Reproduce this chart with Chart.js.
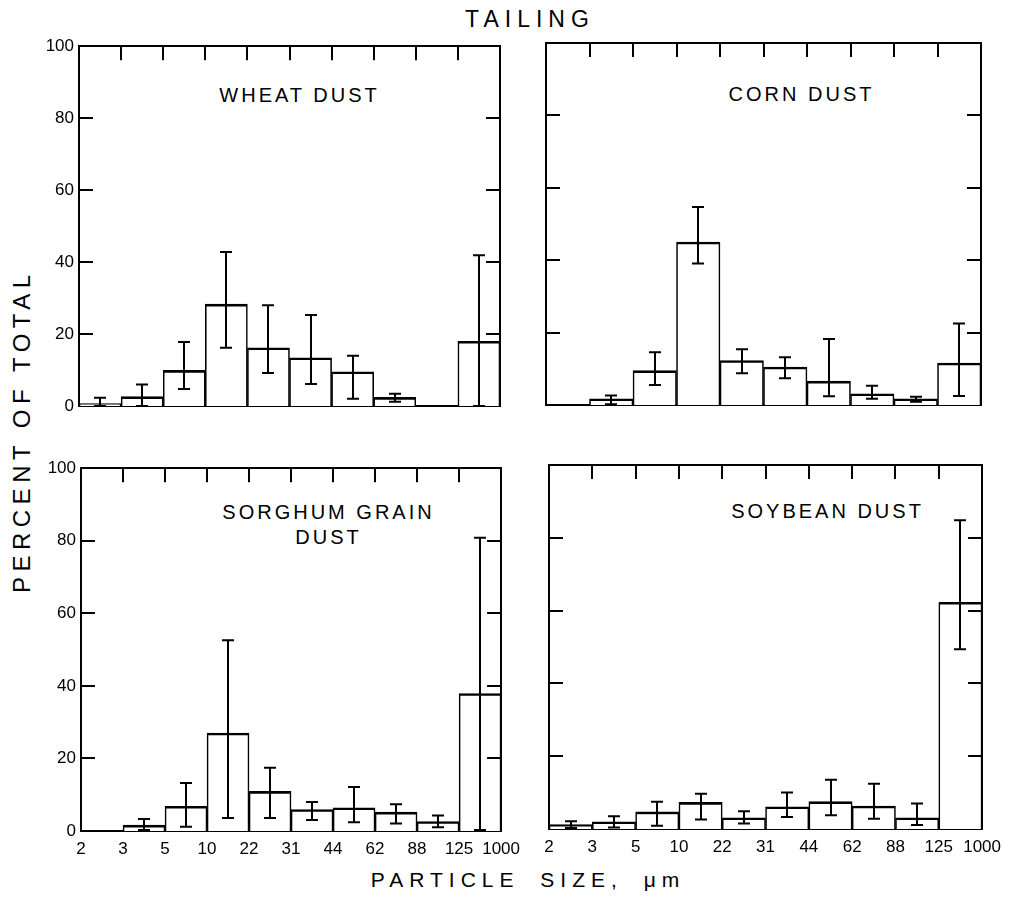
<!DOCTYPE html>
<html>
<head>
<meta charset="utf-8">
<script src="https://cdn.jsdelivr.net/npm/chart.js@4.4.1/dist/chart.umd.min.js"></script>
<style>
    body { margin: 0; background: #fff; width: 1017px; height: 898px; position: relative; overflow: hidden;
           font-family: "Liberation Sans", Arial, sans-serif; color: #000; }
    canvas { position: absolute; }
    .lbl { position: absolute; white-space: nowrap; line-height: 1; transform: translate(-50%, -50%); text-align: center; }
    #title { left: 527px; top: 19px; font-size: 23px; letter-spacing: 6px; padding-left: 6px; }
    #xTitle { left: 525px; top: 879px; font-size: 21px; letter-spacing: 6px; word-spacing: 9px; padding-left: 6px; }
    #yTitle { left: 22px; top: 434px; font-size: 24px; letter-spacing: 5.5px; padding-left: 5.5px;
              transform: translate(-50%, -50%) rotate(-90deg); }
    .panelName { font-size: 20px; letter-spacing: 3px; padding-left: 3px; }
</style>
</head>
<body>
<div class="lbl" id="title">TAILING</div>
<div class="lbl" id="yTitle">PERCENT OF TOTAL</div>
<div class="lbl" id="xTitle">PARTICLE SIZE, μm</div>
<div class="lbl panelName" style="left:298px;top:95px">WHEAT DUST</div>
<div class="lbl panelName" style="left:800px;top:94px">CORN DUST</div>
<div class="lbl panelName" style="left:327px;top:525px;line-height:25px">SORGHUM GRAIN<br>DUST</div>
<div class="lbl panelName" style="left:826px;top:511px">SOYBEAN DUST</div>

<script>
// bin edges (particle size, um) and y ticks
const sizeEdges = ["2", "3", "5", "10", "22", "31", "44", "62", "88", "125", "1000"];
const percentTicks = [0, 20, 40, 60, 80, 100];

// percent of total per size bin, with error bar ends
const wheatPct  = [0.7, 2.6, 9.9, 28.3, 16.2, 13.4, 9.5, 2.4, 0, 18.0];
const wheatLow  = [0, 0, 4.7, 16.2, 9.2, 6.1, 2.0, 1.2, null, 0];
const wheatHigh = [2.3, 6.0, 17.8, 42.8, 28.0, 25.3, 14.0, 3.4, null, 41.9];

const cornPct  = [0, 1.7, 9.5, 45.0, 12.3, 10.5, 6.6, 3.1, 1.7, 11.6];
const cornLow  = [null, 0.2, 5.5, 39.1, 8.8, 7.4, 2.4, 1.7, 0.9, 2.5];
const cornHigh = [null, 2.6, 14.6, 54.7, 15.4, 13.2, 18.2, 5.3, 2.3, 22.5];

const sorghumPct  = [0, 1.6, 6.8, 27.0, 10.9, 5.9, 6.4, 5.2, 2.6, 37.9];
const sorghumLow  = [null, 0.3, 1.2, 3.6, 3.6, 3.0, 2.4, 2.1, 1.0, 0.3];
const sorghumHigh = [null, 3.3, 13.2, 52.6, 17.4, 8.0, 12.1, 7.4, 4.3, 80.8];

const soybeanPct  = [1.2, 2.0, 4.7, 7.3, 3.1, 6.1, 7.5, 6.3, 3.1, 62.3];
const soybeanLow  = [0.3, 0.4, 0.9, 2.6, 1.5, 3.3, 3.8, 2.8, 1.1, 49.4];
const soybeanHigh = [2.1, 3.5, 7.5, 9.7, 4.9, 10.0, 13.5, 12.4, 7.0, 84.8];

const FONT = "'Liberation Sans', Arial, sans-serif";
const PAD = { left: 50, top: 12, right: 26, bottom: 34 };
const TICK = 14;

// plot boxes [left, top, right, bottom] in page pixels
const panels = [
    { box: [79, 43, 500, 406],  pct: wheatPct,   low: wheatLow,   high: wheatHigh,   yLabels: true,  xLabels: false },
    { box: [546, 43, 981, 405], pct: cornPct,    low: cornLow,    high: cornHigh,    yLabels: false, xLabels: false },
    { box: [81, 465, 502, 831], pct: sorghumPct, low: sorghumLow, high: sorghumHigh, yLabels: true,  xLabels: true },
    { box: [549, 465, 983, 829], pct: soybeanPct, low: soybeanLow, high: soybeanHigh, yLabels: false, xLabels: true }
];

// tick marks pointing into the frame
const innerTicks = {
    id: "innerTicks",
    afterDraw(chart) {
        const { ctx, chartArea: a, scales: { x, y } } = chart;
        ctx.save();
        ctx.strokeStyle = "#000";
        ctx.lineWidth = 2;
        ctx.beginPath();
        y.ticks.forEach(t => {
            if (t.value <= y.min || t.value >= y.max) return;
            const py = Math.round(y.getPixelForValue(t.value));
            ctx.moveTo(a.left, py); ctx.lineTo(a.left + TICK, py);
            ctx.moveTo(a.right, py); ctx.lineTo(a.right - TICK, py);
        });
        x.ticks.forEach(t => {
            if (t.value <= x.min || t.value >= x.max) return;
            const px = Math.round(x.getPixelForValue(t.value));
            ctx.moveTo(px, a.top); ctx.lineTo(px, a.top + TICK);
        });
        ctx.stroke();
        ctx.restore();
    }
};

const errorBars = {
    id: "errorBars",
    afterDatasetsDraw(chart, args, opts) {
        const { ctx, scales: { x, y } } = chart;
        ctx.save();
        ctx.strokeStyle = "#000";
        ctx.lineWidth = 2;
        ctx.beginPath();
        opts.low.forEach((lo, i) => {
            const hi = opts.high[i];
            if (lo == null || hi == null) return;
            const px = Math.round(x.getPixelForValue(i + 0.5));
            const y1 = y.getPixelForValue(lo), y2 = y.getPixelForValue(hi);
            ctx.moveTo(px, y1); ctx.lineTo(px, y2);
            ctx.moveTo(px - 6, y1); ctx.lineTo(px + 6, y1);
            ctx.moveTo(px - 6, y2); ctx.lineTo(px + 6, y2);
        });
        ctx.stroke();
        ctx.restore();
    }
};

function drawPanel(p) {
    const [l, t, r, b] = p.box;
    const w = r - l + PAD.left + PAD.right;
    const h = b - t + PAD.top + PAD.bottom;
    const canvas = document.createElement("canvas");
    canvas.width = w;
    canvas.height = h;
    canvas.style.left = (l - PAD.left) + "px";
    canvas.style.top = (t - PAD.top) + "px";
    canvas.style.width = w + "px";
    canvas.style.height = h + "px";
    document.body.appendChild(canvas);

    const frame = { display: true, color: "#000", width: 2 };

    new Chart(canvas, {
        type: "bar",
        data: {
            datasets: [{
                data: p.pct.map((v, i) => ({ x: i + 0.5, y: v })),
                backgroundColor: "#fff",
                borderColor: "#000",
                borderWidth: { top: 2.6, left: 1.6, right: 1.6, bottom: 0 },
                borderSkipped: "start",
                barPercentage: 1,
                categoryPercentage: 1
            }]
        },
        options: {
            responsive: false,
            animation: false,
            events: [],
            layout: { padding: { left: 0, top: PAD.top, right: PAD.right, bottom: 0 } },
            plugins: {
                legend: { display: false },
                tooltip: { enabled: false },
                errorBars: { low: p.low, high: p.high }
            },
            scales: {
                x: {
                    type: "linear", position: "bottom", min: 0, max: sizeEdges.length - 1,
                    offset: false,
                    grid: { display: false, offset: false, drawTicks: false },
                    border: frame,
                    ticks: {
                        display: p.xLabels, stepSize: 1, autoSkip: false, maxRotation: 0, minRotation: 0,
                        padding: 8, color: "#000", font: { family: FONT, size: 17 },
                        callback: v => sizeEdges[v]
                    },
                    afterFit: s => { s.height = PAD.bottom; }
                },
                x2: {
                    type: "linear", position: "top", min: 0, max: sizeEdges.length - 1,
                    grid: { display: false, drawTicks: false },
                    border: frame,
                    ticks: { display: false },
                    afterFit: s => { s.height = 0; }
                },
                y: {
                    type: "linear", position: "left", min: 0, max: 100,
                    grid: { display: false, drawTicks: false },
                    border: frame,
                    ticks: {
                        display: p.yLabels, stepSize: 20, padding: 5, color: "#000",
                        font: { family: FONT, size: 17 }
                    },
                    afterFit: s => { s.width = PAD.left; }
                },
                y2: {
                    type: "linear", position: "right", min: 0, max: 100,
                    grid: { display: false, drawTicks: false },
                    border: frame,
                    ticks: { display: false },
                    afterFit: s => { s.width = 0; }
                }
            }
        },
        plugins: [innerTicks, errorBars]
    });
}

panels.forEach(drawPanel);
</script>
</body>
</html>
